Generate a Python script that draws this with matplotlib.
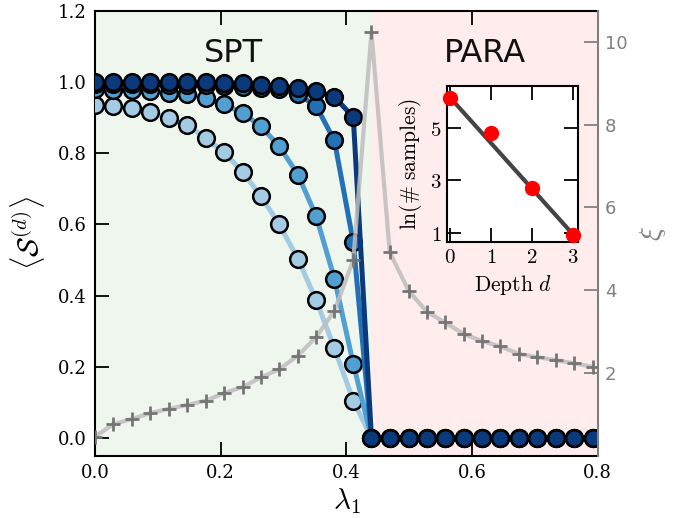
import matplotlib
matplotlib.use("Agg")
import matplotlib.pyplot as plt
from matplotlib.ticker import FixedLocator, FuncFormatter

plt.rcParams['mathtext.fontset'] = 'cm'

# ================================
# DATA
# ================================

lam = [0.000, 0.029, 0.059, 0.088, 0.117, 0.147, 0.176, 0.205, 0.235, 0.264,
       0.293, 0.323, 0.352, 0.381, 0.411, 0.440, 0.469, 0.499, 0.528, 0.557,
       0.587, 0.616, 0.645, 0.675, 0.704, 0.733, 0.763, 0.792]

zeros_right = [0.0] * 13  # lambda >= 0.44, paramagnet

s_d0 = [0.936, 0.934, 0.927, 0.915, 0.898, 0.879, 0.843, 0.803, 0.748, 0.679,
        0.601, 0.503, 0.387, 0.252, 0.105] + zeros_right
s_d1 = [0.980, 0.979, 0.977, 0.974, 0.970, 0.966, 0.955, 0.938, 0.913, 0.876,
        0.820, 0.740, 0.623, 0.448, 0.209] + zeros_right
s_d2 = [0.995, 0.995, 0.994, 0.994, 0.993, 0.992, 0.991, 0.989, 0.987, 0.984,
        0.981, 0.966, 0.933, 0.836, 0.550] + zeros_right
s_d3 = [1.000, 1.000, 1.000, 1.000, 0.999, 0.999, 0.999, 0.998, 0.997, 0.993,
        0.989, 0.984, 0.976, 0.958, 0.902] + zeros_right

xi = [0.46, 0.76, 0.89, 1.03, 1.13, 1.23, 1.33, 1.51, 1.66, 1.89,
      2.09, 2.42, 2.87, 3.50, 4.73, 10.24, 4.92, 3.99, 3.48, 3.22,
      2.94, 2.77, 2.64, 2.46, 2.38, 2.31, 2.23, 2.15]

lam_c = 0.44

depth = [0, 1, 2, 3]
ln_samples = [6.14, 4.79, 2.70, 0.94]
fit_depth = [0, 3]
fit_ln = [6.15, 0.95]

series = [s_d0, s_d1, s_d2, s_d3]
colors = ['#a3cbe4', '#529fd2', '#2271b5', '#0a3a7c']

# ================================
# FIGURE
# ================================

fig = plt.figure(figsize=(6.92, 5.18), dpi=100)
ax = fig.add_axes([0.1373, 0.1203, 0.7264, 0.8585])

ax.axvspan(0, lam_c, color='#eff6ee', lw=0, zorder=0)
ax.axvspan(lam_c, 0.8, color='#ffeded', lw=0, zorder=0)

for s, c in zip(series, colors):
    ax.plot(lam, s, '-o', color=c, lw=3.6, ms=12, mfc=c, mec='black',
            mew=1.8, zorder=3)

ax.set_xlim(0, 0.8)
ax.set_ylim(-0.05, 1.2)
ax.set_xticks([0.0, 0.2, 0.4, 0.6, 0.8])
ax.set_yticks([0.0, 0.2, 0.4, 0.6, 0.8, 1.0, 1.2])
ax.tick_params(direction='in', length=10, width=1.3, labelsize=13, pad=6,
               top=True, right=False)
for lab in ax.get_xticklabels() + ax.get_yticklabels():
    lab.set_family('DejaVu Serif')
for sp in ax.spines.values():
    sp.set_linewidth(1.5)
ax.spines['right'].set_visible(False)

ax.set_xlabel(r'$\lambda_1$', fontsize=21, labelpad=3)
ax.set_ylabel(r'$\langle \mathcal{S}^{(d)} \rangle$', fontsize=21, labelpad=8)

ax.text(lam_c / 2, 1.056, 'SPT', fontsize=23, ha='center', va='baseline',
        family='DejaVu Sans', color='#111111')
ax.text((lam_c + 0.8) / 2, 1.056, 'PARA', fontsize=23, ha='center',
        va='baseline', family='DejaVu Sans', color='#111111')

# correlation length on the right axis
ax2 = ax.twinx()
ax2.plot(lam, xi, '-', color='#bdbdbd', lw=3.0, alpha=0.85, zorder=2)
ax2.plot(lam, xi, '+', color='#757575', ms=10, mew=2.0, zorder=3)
ax2.set_ylim(0, 10.75)
ax2.set_yticks([2, 4, 6, 8, 10])
ax2.tick_params(axis='y', direction='in', length=10, width=1.3,
                labelsize=13, pad=5, colors='#808080')
ax2.spines['right'].set_color('#808080')
ax2.spines['right'].set_linewidth(1.5)
for side in ['left', 'top', 'bottom']:
    ax2.spines[side].set_visible(False)
ax2.set_ylabel(r'$\xi$', fontsize=21, color='#808080', labelpad=8)

# inset: number of samples vs depth
ins = fig.add_axes([0.646, 0.533, 0.189, 0.301])
ins.plot(fit_depth, fit_ln, '-', color='#444444', lw=3.0, zorder=2)
ins.plot(depth, ln_samples, 'o', color='red', ms=10, mec='red', zorder=3,
         clip_on=False)
ins.set_xlim(-0.07, 3.12)
ins.set_ylim(0.66, 6.58)
ins.xaxis.set_major_locator(FixedLocator([0, 1, 2, 3]))
ins.yaxis.set_major_locator(FixedLocator([1, 3, 5]))
ins.xaxis.set_major_formatter(FuncFormatter(lambda v, p: r'$%d$' % v))
ins.yaxis.set_major_formatter(FuncFormatter(lambda v, p: r'$%d$' % v))
ins.tick_params(direction='in', length=10, width=1.3, labelsize=15, pad=4,
                top=True, right=True)
for sp in ins.spines.values():
    sp.set_linewidth(1.5)
ins.set_xlabel(r'$\mathrm{Depth}\ d$', fontsize=15.5, labelpad=4)
ins.set_ylabel(r'$\ln(\#\ \mathrm{samples})$', fontsize=15.5, labelpad=4)

plt.savefig('out.png', dpi=100)
